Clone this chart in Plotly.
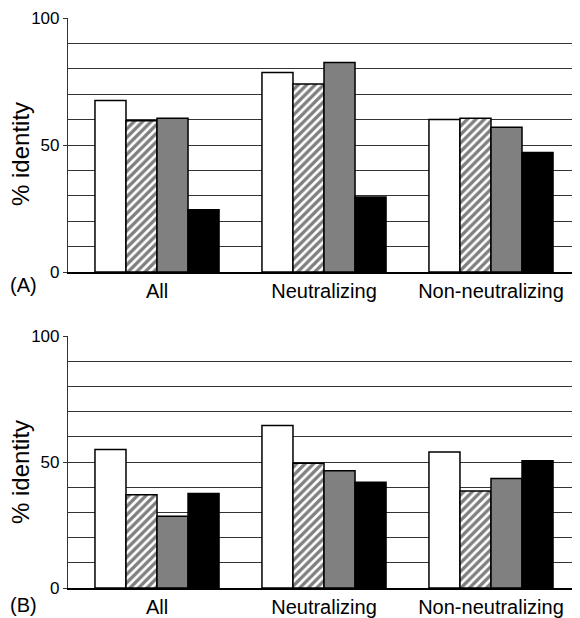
import plotly.graph_objects as go

categories = ["All", "Neutralizing", "Non-neutralizing"]
cat_pos = [0, 1, 2]

# Panel A values (% identity)
a_white = [67.5, 78.5, 60.0]
a_hatch = [59.5, 74.0, 60.5]
a_gray = [60.5, 82.5, 57.0]
a_black = [24.5, 29.5, 47.0]

# Panel B values (% identity)
b_white = [55.0, 64.5, 54.0]
b_hatch = [37.0, 49.5, 38.5]
b_gray = [28.5, 46.5, 43.5]
b_black = [37.5, 42.0, 50.5]

series_names = ["Series 1", "Series 2", "Series 3", "Series 4"]
y_ticks = [0, 50, 100]

FONT = "Liberation Sans, Arial, sans-serif"

styles = [
    dict(color="white", pattern=None),
    dict(color="white", pattern=dict(shape="/", fgcolor="black", bgcolor="white", size=6, solidity=0.55)),
    dict(color="#808080", pattern=None),
    dict(color="black", pattern=None),
]

fig = go.Figure()

def add_panel(values, xa, ya):
    for name, vals, st in zip(series_names, values, styles):
        marker = dict(color=st["color"], line=dict(color="black", width=1.5))
        if st["pattern"] is not None:
            marker["pattern"] = st["pattern"]
        fig.add_trace(go.Bar(x=cat_pos, y=vals, name=name, marker=marker,
                             xaxis=xa, yaxis=ya, showlegend=False))

add_panel([a_white, a_hatch, a_gray, a_black], "x", "y")
add_panel([b_white, b_hatch, b_gray, b_black], "x2", "y2")

# page body has an 8px margin, so the figure is sized to fit the window
W, H = 572, 610
xdom = [60 / W, 1.0]
a_dom = [1 - 264 / H, 1 - 10 / H]
b_dom = [1 - 580 / H, 1 - 328 / H]

xaxis_common = dict(
    range=[-0.533, 2.533], tickvals=cat_pos, ticktext=categories,
    showline=True, linecolor="black", linewidth=1.5, ticks="", showgrid=False,
    zeroline=False, tickfont=dict(family=FONT, size=20, color="black"),
    domain=xdom, fixedrange=True, automargin=False,
)
yaxis_common = dict(
    range=[0, 100], tickvals=y_ticks, showline=True, linecolor="#333333", linewidth=1.2,
    ticks="outside", ticklen=4, tickcolor="#333333", showgrid=True, gridcolor="#333333",
    gridwidth=1, zeroline=False, tickfont=dict(family=FONT, size=17, color="black"),
    minor=dict(dtick=10, showgrid=True, gridcolor="#333333", gridwidth=1, ticks=""),
    automargin=False, fixedrange=True,
)

fig.update_layout(
    width=W, height=H, margin=dict(l=0, r=0, t=0, b=0),
    plot_bgcolor="white", paper_bgcolor="white",
    barmode="group", bargap=0.257, bargroupgap=0,
    xaxis=dict(**xaxis_common, anchor="y"),
    xaxis2=dict(**xaxis_common, anchor="y2"),
    yaxis=dict(**yaxis_common, domain=a_dom, anchor="x"),
    yaxis2=dict(**yaxis_common, domain=b_dom, anchor="x2"),
    annotations=[
        dict(text="% identity", x=12 / W, y=1 - 146 / H, xref="paper", yref="paper",
             xanchor="center", yanchor="middle",
             textangle=-90, showarrow=False, font=dict(family=FONT, size=24, color="black")),
        dict(text="% identity", x=12 / W, y=1 - 464 / H, xref="paper", yref="paper",
             xanchor="center", yanchor="middle",
             textangle=-90, showarrow=False, font=dict(family=FONT, size=24, color="black")),
        dict(text="(A)", x=0, y=1 - 277 / H, xref="paper", yref="paper", xanchor="left",
             yanchor="middle", showarrow=False, font=dict(family=FONT, size=20, color="black")),
        dict(text="(B)", x=0, y=1 - 597 / H, xref="paper", yref="paper", xanchor="left",
             yanchor="middle", showarrow=False, font=dict(family=FONT, size=20, color="black")),
    ],
)

fig.write_html("out.html")
